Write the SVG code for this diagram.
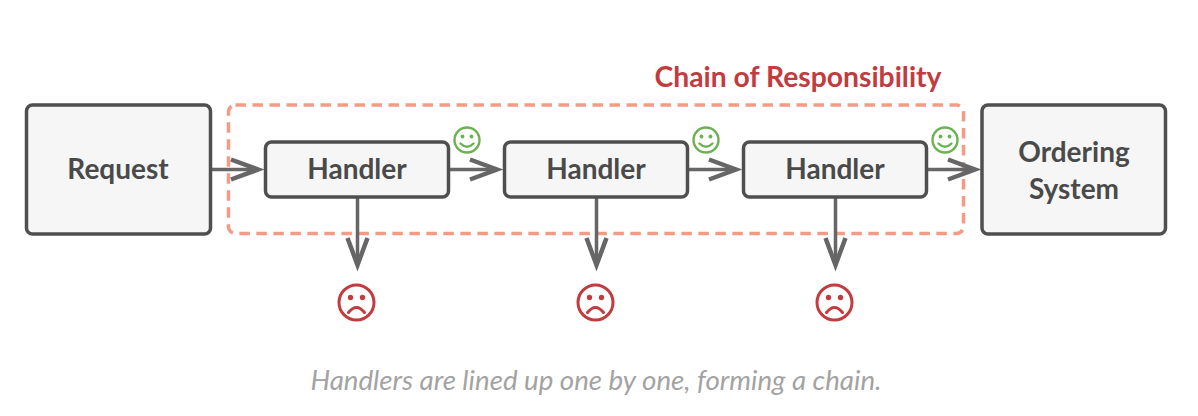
<svg xmlns="http://www.w3.org/2000/svg" width="1198" height="416" viewBox="0 0 1198 416">
<style>
.box{fill:#f6f6f6;stroke:#4f4f4f;stroke-width:3.5}
.lbl{font-family:"Lato","Noto Sans",sans-serif;font-weight:700;font-size:28px;fill:#4a4a4a;text-anchor:middle}
.c{fill:none;stroke:#666;stroke-width:3.5}
.h{fill:none;stroke:#666;stroke-width:4.5}
.smile{fill:none;stroke:#6eb153;stroke-width:2.4;stroke-linecap:round}
.sad{fill:none;stroke:#c23c3f;stroke-width:3;stroke-linecap:round}
</style>
<defs>
<g id="happy"><circle r="12.5" class="smile"/><circle cx="-4.5" cy="-3.5" r="1.9" fill="#6eb153"/><circle cx="4.5" cy="-3.5" r="1.9" fill="#6eb153"/><path class="smile" d="M-6.5 3.5Q0 10 6.5 3.5"/></g>
<g id="unhappy"><circle r="17.5" class="sad"/><circle cx="-6" cy="-5" r="2.7" fill="#c23c3f"/><circle cx="6" cy="-5" r="2.7" fill="#c23c3f"/><path class="sad" d="M-8 10Q0 0 8 10"/></g>
</defs>
<rect id="group" x="228.5" y="105" width="735" height="128.500" rx="7" fill="none" stroke="#f59a85" stroke-width="3.500" stroke-dasharray="10.500 6.500"/>
<g id="connectors">
<path class="c" d="M211 169.500H255M450 169.500H494M689 169.500H733M928 169.500H972M357.500 198V261M596.500 198V261M835.500 198V261"/>
<path class="h" d="M231 159.500L258 169.500L231 179.500M470 159.500L497 169.500L470 179.500M709 159.500L736 169.500L709 179.500M948 159.500L975 169.500L948 179.500M347.500 238L357.500 265L367.500 238M586.500 238L596.500 265L606.500 238M825.500 238L835.500 265L845.500 238"/>
</g>
<g id="request"><rect class="box" x="26.500" y="105" width="184" height="129" rx="6"/><text class="lbl" x="118" y="179">Request</text></g>
<g id="handler1"><rect class="box" x="265.500" y="142" width="183" height="55" rx="6"/><text class="lbl" x="357" y="179">Handler</text></g>
<g id="handler2"><rect class="box" x="504.500" y="142" width="183" height="55" rx="6"/><text class="lbl" x="596" y="179">Handler</text></g>
<g id="handler3"><rect class="box" x="743.500" y="142" width="183" height="55" rx="6"/><text class="lbl" x="835" y="179">Handler</text></g>
<g id="ordering"><rect class="box" x="982" y="105" width="183.500" height="129" rx="6"/><text class="lbl" x="1074" y="162">Ordering</text><text class="lbl" x="1074" y="199">System</text></g>
<g id="happy1"><use href="#happy" x="467" y="140"/></g>
<g id="happy2"><use href="#happy" x="706" y="140"/></g>
<g id="happy3"><use href="#happy" x="945" y="140"/></g>
<g id="sad1"><use href="#unhappy" x="356.500" y="302.500"/></g>
<g id="sad2"><use href="#unhappy" x="595.500" y="302.500"/></g>
<g id="sad3"><use href="#unhappy" x="834.500" y="302.500"/></g>
<text id="title" x="798" y="87" font-family="Lato,'Noto Sans',sans-serif" font-weight="700" font-size="28.300" fill="#c23c3f" text-anchor="middle">Chain of Responsibility</text>
<text id="caption" x="596" y="390" font-family="Lato,'Noto Sans',sans-serif" font-style="italic" font-size="27.700" fill="#a3a3a3" text-anchor="middle">Handlers are lined up one by one, forming a chain.</text>
</svg>
